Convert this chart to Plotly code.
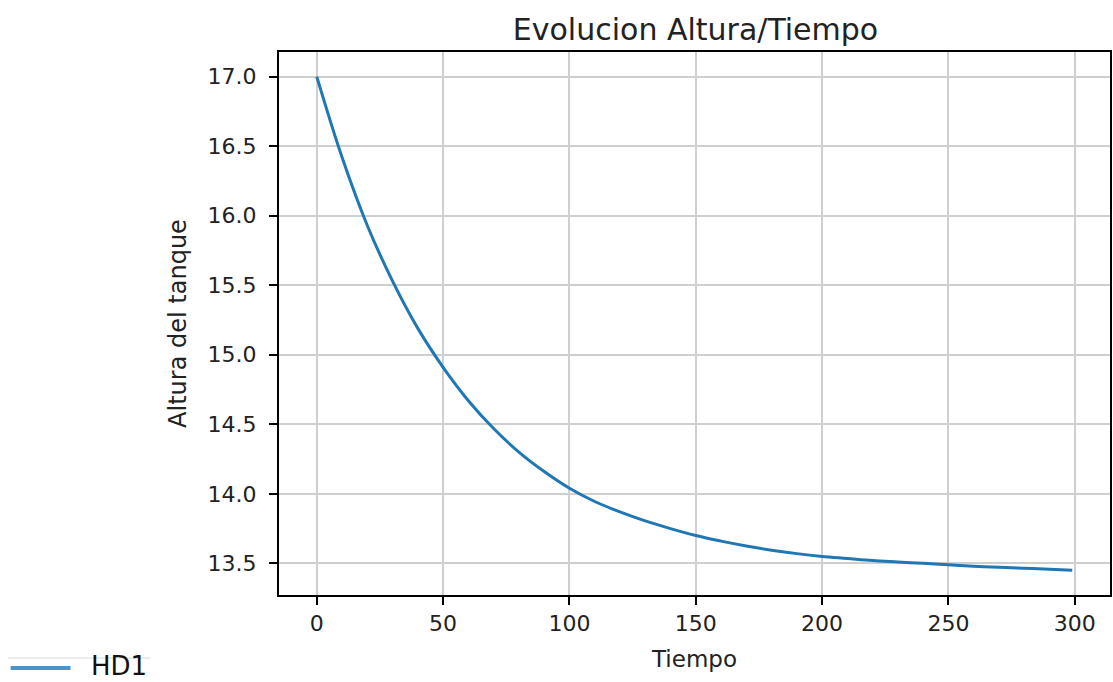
import plotly.graph_objects as go

# Tank height over time (HD1)
tiempo = [0, 10, 20, 30, 40, 50, 60, 70, 80, 90, 100, 110, 120, 130, 140, 150,
          160, 170, 180, 190, 200, 210, 220, 230, 240, 250, 260, 270, 280, 290, 299]
altura_hd1 = [17.00, 16.42, 15.93, 15.53, 15.19, 14.91, 14.67, 14.47, 14.30, 14.16,
              14.04, 13.945, 13.87, 13.805, 13.75, 13.70, 13.66, 13.625, 13.595, 13.57,
              13.55, 13.535, 13.52, 13.51, 13.50, 13.49, 13.48, 13.472, 13.465, 13.457, 13.45]
serie = "HD1"

x_ticks = [0, 50, 100, 150, 200, 250, 300]
y_ticks = [13.5, 14.0, 14.5, 15.0, 15.5, 16.0, 16.5, 17.0]
y_tick_text = [f"{v:.1f}" for v in y_ticks]

W, H = 1113, 682
L, R, T, B = 279, 1, 52, 87
pw, ph = W - L - R, H - T - B

# matplotlib-style 5% data margins
xmin, xmax = min(tiempo), max(tiempo)
ymin, ymax = min(altura_hd1), max(altura_hd1)
xpad = 0.05 * (xmax - xmin)
ypad = 0.05 * (ymax - ymin)

FONT = "DejaVu Sans"
TXT = "#222222"
C0 = "#1f77b4"

fig = go.Figure()
fig.add_trace(go.Scatter(
    x=tiempo, y=altura_hd1, name=serie, mode="lines",
    line=dict(color=C0, width=3, shape="spline", smoothing=1.0),
    showlegend=False,
))

axis_common = dict(
    showline=True, linecolor="black", linewidth=2, mirror=True,
    showgrid=True, gridcolor="#cfcfcf", gridwidth=2,
    ticks="outside", ticklen=8, tickwidth=2, tickcolor="black",
    zeroline=False,
    tickfont=dict(family=FONT, size=22, color=TXT),
)

fig.update_xaxes(
    range=[xmin - xpad, xmax + xpad],
    tickvals=x_ticks,
    title=dict(text="Tiempo", font=dict(family=FONT, size=23, color=TXT), standoff=15),
    **axis_common,
)
fig.update_yaxes(
    range=[ymin - ypad, ymax + ypad],
    tickvals=y_ticks, ticktext=y_tick_text,
    ticklabelstandoff=8,
    title=dict(text="Altura del tanque", font=dict(family=FONT, size=24, color=TXT), standoff=14),
    **axis_common,
)

def px_x(px):
    return (px - L) / pw

def px_y(py):
    return (H - B - py) / ph

# Legend entry below the axes, bottom-left
shapes = [
    dict(type="line", xref="paper", yref="paper",
         x0=px_x(7), x1=px_x(150), y0=px_y(658), y1=px_y(658),
         line=dict(color="#ececec", width=2)),
    dict(type="line", xref="paper", yref="paper",
         x0=px_x(10), x1=px_x(70), y0=px_y(668), y1=px_y(668),
         line=dict(color="#4a93c9", width=4)),
]
annotations = [
    dict(text=serie, xref="paper", yref="paper", x=px_x(89), y=px_y(666),
         xanchor="left", yanchor="middle", showarrow=False,
         font=dict(family=FONT, size=26, color="#111111")),
]

fig.update_layout(
    width=W, height=H,
    margin=dict(l=L, r=R, t=T, b=B),
    paper_bgcolor="white", plot_bgcolor="white",
    title=dict(text="Evolucion Altura/Tiempo", x=695.5 / W,
               xanchor="center", xref="container",
               y=1 - 29 / H, yanchor="middle", yref="container",
               font=dict(family=FONT, size=30, color=TXT)),
    shapes=shapes, annotations=annotations,
)

fig.write_html("out.html")
